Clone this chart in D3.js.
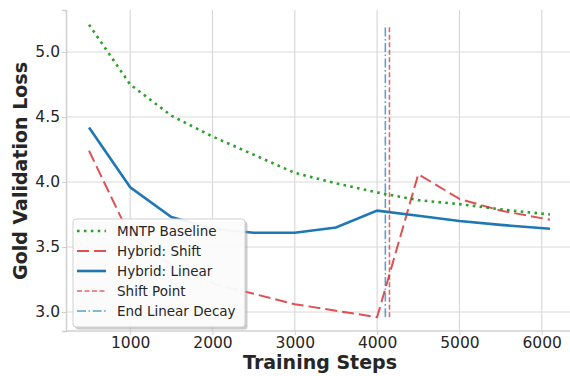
<!DOCTYPE html>
<html lang="en">
<head>
  <meta charset="UTF-8">
  <title>Gold Validation Loss</title>
  <script src="https://d3js.org/d3.v7.min.js"></script>
  <style>
    body { margin: 0; background: #fff; }
    text { font-family: "DejaVu Sans", sans-serif; fill: #262626; }
  </style>
</head>
<body>
<div id="chart"></div>
<script>
// Data
const steps = [500, 1000, 1500, 2000, 2500, 3000, 3500, 4000, 4500, 5000, 5500, 6100];
const mntpBaseline = [5.21, 4.75, 4.51, 4.35, 4.21, 4.07, 3.99, 3.92, 3.86, 3.83, 3.79, 3.75];
const hybridShift = [4.24, 3.58, 3.36, 3.22, 3.14, 3.06, 3.01, 2.96, 4.06, 3.87, 3.78, 3.71];
const hybridLinear = [4.42, 3.96, 3.73, 3.64, 3.61, 3.61, 3.65, 3.78, 3.74, 3.70, 3.67, 3.64];
const shiftPoint = 4150;
const endLinearDecay = 4100;
const xTicks = [1000, 2000, 3000, 4000, 5000, 6000];
const yTicks = [3.0, 3.5, 4.0, 4.5, 5.0];

const W = 570, H = 376;
const margin = { top: 10, right: -3, bottom: 45, left: 66 };

const svg = d3.select("#chart").append("svg")
  .attr("width", W).attr("height", H);

const x = d3.scaleLinear().domain([220, 6380]).range([margin.left, W - margin.right]);
const y = d3.scaleLinear().domain([2.854, 5.323]).range([H - margin.bottom, margin.top]);

// grid
svg.append("g").selectAll("line").data(xTicks).join("line")
  .attr("x1", d => x(d)).attr("x2", d => x(d))
  .attr("y1", margin.top).attr("y2", H - margin.bottom)
  .attr("stroke", "#d9d9d9").attr("stroke-width", 1.2);
svg.append("g").selectAll("line").data(yTicks).join("line")
  .attr("x1", margin.left).attr("x2", W)
  .attr("y1", d => y(d)).attr("y2", d => y(d))
  .attr("stroke", "#d9d9d9").attr("stroke-width", 1.2);

// axes
const xAxis = svg.append("g")
  .attr("transform", `translate(0,${H - margin.bottom})`)
  .call(d3.axisBottom(x).tickValues(xTicks).tickFormat(d3.format("d")).tickSize(4).tickPadding(2));
const yAxis = svg.append("g")
  .attr("transform", `translate(${margin.left},0)`)
  .call(d3.axisLeft(y).tickValues(yTicks).tickFormat(d3.format(".1f")).tickSize(4).tickPadding(2));
[xAxis, yAxis].forEach(a => {
  a.select(".domain").attr("stroke", "#d0d0d0").attr("stroke-width", 1.5);
  a.selectAll(".tick line").attr("stroke", "#d0d0d0");
  a.selectAll(".tick text").style("font-size", "15.5px").attr("fill", "#333");
});
xAxis.select(".domain").attr("d", `M${margin.left},0H${W}`);

svg.append("text")
  .attr("x", 320).attr("y", 369)
  .attr("text-anchor", "middle")
  .style("font-size", "19px").style("font-weight", "bold")
  .attr("fill", "#333")
  .text("Training Steps");
svg.append("text")
  .attr("transform", `translate(27,${171}) rotate(-90)`)
  .attr("text-anchor", "middle")
  .style("font-size", "19px").style("font-weight", "bold")
  .attr("fill", "#333")
  .text("Gold Validation Loss");

const line = d3.line().x((d, i) => x(steps[i])).y(d => y(d));
const allVals = mntpBaseline.concat(hybridShift, hybridLinear);
const yMin = d3.min(allVals), yMax = d3.max(allVals);

const plot = svg.append("g");
plot.append("path").datum(mntpBaseline)
  .attr("d", line).attr("fill", "none")
  .attr("stroke", "#2ca02c").attr("stroke-width", 2.6)
  .attr("stroke-dasharray", "2.6,4.3");
plot.append("path").datum(hybridShift)
  .attr("d", line).attr("fill", "none")
  .attr("stroke", "#d62728").attr("stroke-opacity", 0.8).attr("stroke-width", 2)
  .attr("stroke-dasharray", "12,5");
plot.append("path").datum(hybridLinear)
  .attr("d", line).attr("fill", "none")
  .attr("stroke", "#1f77b4").attr("stroke-width", 2.6);
plot.append("line")
  .attr("x1", x(shiftPoint)).attr("x2", x(shiftPoint))
  .attr("y1", y(yMin)).attr("y2", y(yMax))
  .attr("stroke", "#d62728").attr("stroke-opacity", 0.7).attr("stroke-width", 1.6)
  .attr("stroke-dasharray", "5,2.5");
plot.append("line")
  .attr("x1", x(endLinearDecay)).attr("x2", x(endLinearDecay))
  .attr("y1", y(yMin)).attr("y2", y(yMax))
  .attr("stroke", "#1f77b4").attr("stroke-opacity", 0.7).attr("stroke-width", 1.6)
  .attr("stroke-dasharray", "9,2.5,1.6,2.5");

// legend
const legendItems = [
  { label: "MNTP Baseline", color: "#2ca02c", op: 1, w: 2.6, dash: "2.6,4.3" },
  { label: "Hybrid: Shift", color: "#d62728", op: 0.8, w: 2, dash: "12,5" },
  { label: "Hybrid: Linear", color: "#1f77b4", op: 1, w: 2.6, dash: null },
  { label: "Shift Point", color: "#d62728", op: 0.7, w: 1.6, dash: "5,2.5" },
  { label: "End Linear Decay", color: "#1f77b4", op: 0.7, w: 1.6, dash: "9,2.5,1.6,2.5" }
];
const lg = svg.append("g").attr("transform", "translate(73,219)");
lg.append("rect").attr("x", 2.5).attr("y", 2.5).attr("width", 172).attr("height", 108)
  .attr("rx", 3).attr("fill", "#999").attr("opacity", 0.5);
lg.append("rect").attr("width", 172).attr("height", 108)
  .attr("rx", 3).attr("fill", "#fff").attr("fill-opacity", 0.92)
  .attr("stroke", "#cfcfcf").attr("stroke-width", 1);
const li = lg.selectAll("g.item").data(legendItems).join("g")
  .attr("transform", (d, i) => `translate(0,${12 + i * 20})`);
li.append("line").attr("x1", 4).attr("x2", 33)
  .attr("stroke", d => d.color).attr("stroke-opacity", d => d.op)
  .attr("stroke-width", d => d.w).attr("stroke-dasharray", d => d.dash);
li.append("text").attr("x", 44).attr("y", 4.8)
  .style("font-size", "13.5px").attr("fill", "#333")
  .text(d => d.label);
</script>
</body>
</html>
